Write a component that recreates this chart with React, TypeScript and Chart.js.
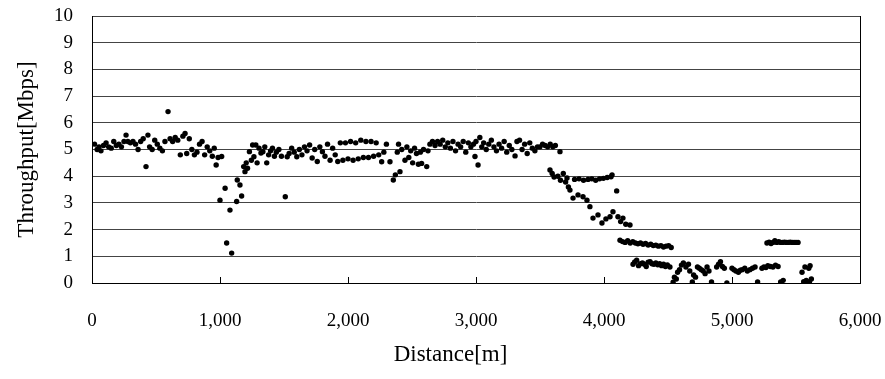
import React, { useEffect, useRef } from "react";
import { Chart, registerables } from "chart.js";

Chart.register(...registerables);

// Distance [m], Throughput [Mbps] pairs, by section of the run
const segStart: [number, number][] = [
  [20, 5.2], [40, 5.0], [55, 5.1], [70, 4.95], [90, 5.15], [110, 5.25], [130, 5.1], [150, 5.05],
  [170, 5.3], [190, 5.15], [210, 5.2], [230, 5.1], [250, 5.3], [266, 5.54], [280, 5.3], [300, 5.25],
  [320, 5.3], [340, 5.2], [360, 5.0], [380, 5.3], [400, 5.4], [422, 4.36], [437, 5.54], [450, 5.1],
  [470, 5.0], [490, 5.35], [510, 5.2], [530, 5.05], [550, 4.95], [570, 5.3], [594, 6.42], [610, 5.4],
  [630, 5.3], [650, 5.45], [670, 5.35], [690, 4.8], [710, 5.5], [727, 5.6], [740, 4.85], [760, 5.4],
  [780, 5.0], [800, 4.8], [820, 4.9], [840, 5.2], [860, 5.3], [880, 4.8], [900, 5.1], [920, 4.95],
  [940, 4.75], [955, 5.05], [970, 4.42], [985, 4.7],
];

const segDip: [number, number][] = [
  [1000, 3.1], [1013, 4.74], [1040, 3.55], [1052, 1.5], [1078, 2.73], [1091, 1.12], [1130, 3.05],
  [1135, 3.86], [1156, 3.67], [1169, 3.26],
];

const segRecover: [number, number][] = [
  [1185, 4.36], [1195, 4.17], [1205, 4.5], [1215, 4.3], [1230, 4.92], [1245, 4.6], [1255, 5.17],
  [1265, 4.73], [1280, 5.17], [1290, 4.5], [1305, 5.05], [1320, 4.87], [1335, 4.92], [1350, 5.1],
  [1365, 4.5], [1380, 4.8], [1395, 4.95], [1410, 5.05], [1425, 4.75], [1440, 4.9], [1460, 5.0],
  [1480, 4.75], [1510, 3.23], [1525, 4.73], [1540, 4.85], [1560, 5.05], [1580, 4.9], [1600, 4.73],
  [1620, 5.0], [1640, 4.8], [1660, 5.1], [1680, 4.95], [1700, 5.17], [1720, 4.68], [1740, 5.0],
  [1760, 4.55], [1780, 5.1], [1800, 4.92], [1820, 4.75], [1840, 5.2], [1860, 4.6], [1880, 5.05],
  [1900, 4.8], [1920, 4.55], [1940, 5.25], [1960, 4.6], [1980, 5.25], [2000, 4.65], [2020, 5.3],
  [2040, 4.6], [2060, 5.25], [2080, 4.65], [2100, 5.35], [2120, 4.7], [2140, 5.3], [2160, 4.7],
  [2180, 5.3], [2200, 4.75], [2220, 5.25], [2240, 4.8], [2263, 4.54], [2280, 4.9], [2300, 5.2],
  [2328, 4.54], [2354, 3.86], [2370, 4.05], [2385, 4.9], [2395, 5.2],
];

const segPlateau: [number, number][] = [
  [2406, 4.17], [2420, 5.0], [2445, 4.6], [2460, 5.1], [2475, 4.7], [2490, 4.95], [2505, 4.5],
  [2520, 5.05], [2535, 4.85], [2550, 4.45], [2565, 4.9], [2575, 4.48], [2590, 5.0], [2615, 4.36],
  [2625, 4.95], [2640, 5.2], [2660, 5.3], [2680, 5.15], [2700, 5.3], [2720, 5.2], [2740, 5.35],
  [2760, 5.1], [2780, 5.25], [2800, 5.05], [2820, 5.3], [2840, 4.95], [2860, 5.2], [2880, 5.1],
  [2900, 5.3], [2920, 4.9], [2940, 5.25], [2960, 5.1], [2980, 5.2], [2992, 4.74], [3000, 5.3],
  [3016, 4.42], [3030, 5.45], [3045, 5.1], [3060, 5.25], [3080, 5.0], [3100, 5.2], [3120, 5.35],
  [3140, 5.1], [3160, 4.95], [3180, 5.2], [3200, 5.05], [3220, 5.3], [3240, 4.9], [3260, 5.15],
  [3280, 5.0], [3305, 4.76], [3320, 5.3], [3340, 5.35], [3360, 5.0], [3380, 5.2], [3400, 4.85],
  [3420, 5.25], [3440, 5.05], [3460, 4.95], [3480, 5.1], [3500, 5.1], [3520, 5.2], [3540, 5.15],
  [3560, 5.1], [3580, 5.2], [3600, 5.1], [3620, 5.15], [3656, 4.92],
];

const segDecline: [number, number][] = [
  [3578, 4.23], [3595, 4.1], [3610, 3.97], [3640, 4.0], [3660, 3.85], [3682, 4.1], [3700, 3.78],
  [3711, 3.93], [3722, 3.6], [3734, 3.48], [3758, 3.18], [3770, 3.88], [3797, 3.3], [3805, 3.9],
  [3836, 3.23], [3840, 3.85], [3867, 3.1], [3875, 3.88], [3890, 2.86], [3905, 3.9], [3914, 2.43],
  [3935, 3.85], [3953, 2.55], [3965, 3.9], [3984, 2.25], [3995, 3.92], [4015, 2.4], [4025, 3.95],
  [4047, 2.48], [4055, 3.98], [4063, 4.05], [4070, 2.67], [4099, 3.45], [4109, 2.48], [4130, 2.3],
  [4148, 2.43], [4170, 2.2], [4203, 2.17],
];

const segStep: [number, number][] = [
  [4125, 1.6], [4145, 1.55], [4165, 1.52], [4185, 1.58], [4205, 1.5], [4225, 1.55], [4245, 1.5],
  [4265, 1.47], [4285, 1.5], [4305, 1.45], [4325, 1.48], [4345, 1.42], [4365, 1.45], [4385, 1.4],
  [4405, 1.42], [4425, 1.38], [4445, 1.4], [4465, 1.35], [4485, 1.38], [4505, 1.4], [4525, 1.33],
  [4227, 0.7], [4240, 0.79], [4255, 0.85], [4270, 0.65], [4285, 0.72], [4300, 0.75], [4315, 0.7],
  [4330, 0.62], [4345, 0.78], [4360, 0.8], [4375, 0.72], [4390, 0.7], [4405, 0.75], [4420, 0.68],
  [4435, 0.72], [4450, 0.65], [4465, 0.7], [4480, 0.62], [4495, 0.68], [4515, 0.6],
];

const segTail: [number, number][] = [
  [4540, 0.03], [4550, 0.22], [4565, 0.15], [4575, 0.4], [4590, 0.5], [4605, 0.67], [4620, 0.75],
  [4640, 0.6], [4660, 0.7], [4670, 0.45], [4690, 0.04], [4700, 0.3], [4715, 0.22], [4730, 0.6],
  [4745, 0.55], [4760, 0.5], [4775, 0.45], [4790, 0.35], [4805, 0.6], [4820, 0.45], [4840, 0.04],
  [4880, 0.6], [4895, 0.7], [4910, 0.8], [4925, 0.62], [4940, 0.55], [4960, 0.0], [5000, 0.55],
  [5015, 0.5], [5030, 0.45], [5050, 0.4], [5065, 0.48], [5080, 0.5], [5100, 0.55], [5120, 0.45],
  [5140, 0.5], [5160, 0.55], [5180, 0.6], [5200, 0.04], [5234, 0.55], [5250, 0.6], [5265, 0.58],
  [5280, 0.65], [5300, 0.62], [5320, 0.6], [5340, 0.67], [5360, 0.62], [5380, 0.04], [5400, 0.1],
  [5273, 1.5], [5290, 1.53], [5305, 1.48], [5320, 1.52], [5335, 1.58], [5350, 1.52], [5365, 1.55],
  [5380, 1.52], [5395, 1.52], [5410, 1.53], [5425, 1.52], [5440, 1.52], [5455, 1.53], [5470, 1.52],
  [5485, 1.52], [5500, 1.52], [5516, 1.52],
  [5547, 0.4], [5560, 0.05], [5570, 0.6], [5580, 0.1], [5590, 0.0], [5600, 0.55], [5610, 0.65],
  [5620, 0.15], [5605, 0.05],
];

const xTickValues = [0, 1000, 2000, 3000, 4000, 5000, 6000];
const yTickValues = [0, 1, 2, 3, 4, 5, 6, 7, 8, 9, 10];
const xTitle = "Distance[m]";
const yTitle = "Throughput[Mbps]";

const FONT = "'Liberation Serif', 'Times New Roman', serif";

const frame = {
  id: "frame",
  afterDraw(chart: any) {
    const { ctx, chartArea } = chart;
    const x = chart.scales.x;
    ctx.save();
    ctx.strokeStyle = "#000";
    ctx.lineWidth = 1;
    ctx.beginPath();
    for (const v of xTickValues) {
      if (v === 0 || v === 6000) continue;
      const px = Math.round(x.getPixelForValue(v)) + 0.5;
      ctx.moveTo(px, chartArea.bottom);
      ctx.lineTo(px, chartArea.bottom - 6);
    }
    const r = Math.round(chartArea.right) + 0.5;
    ctx.moveTo(r, chartArea.top);
    ctx.lineTo(r, chartArea.bottom);
    ctx.stroke();
    // x-axis title, centred on the figure as in the original
    ctx.fillStyle = "#000";
    ctx.font = `23px ${FONT}`;
    ctx.textAlign = "center";
    ctx.textBaseline = "middle";
    ctx.fillText(xTitle, chart.width / 2 + 8, chartArea.bottom + 72);
    ctx.restore();
  },
};

export default function App() {
  const ref = useRef<HTMLCanvasElement>(null);
  useEffect(() => {
    const all = [...segStart, ...segDip, ...segRecover, ...segPlateau, ...segDecline, ...segStep, ...segTail];
    const chart = new Chart(ref.current!, {
      type: "scatter",
      data: {
        datasets: [
          {
            data: all.map(([x, y]) => ({ x, y })),
            backgroundColor: "#000",
            borderWidth: 0,
            pointRadius: 2.7,
            pointStyle: "circle",
          },
        ],
      },
      options: {
        animation: false,
        responsive: false,
        events: [],
        layout: { padding: { top: 0, right: 0, left: 0, bottom: 0 } },
        plugins: { legend: { display: false }, tooltip: { enabled: false } },
        scales: {
          x: {
            type: "linear",
            min: 0,
            max: 6000,
            afterFit: (s: any) => {
              s.height = 96;
              s.paddingLeft = 0;
              s.paddingRight = 25;
            },
            afterBuildTicks: (s: any) => { s.ticks = xTickValues.map((v) => ({ value: v })); },
            grid: { display: false, drawTicks: false },
            border: { display: true, color: "#000", width: 1 },
            ticks: {
              padding: 27,
              color: "#000",
              autoSkip: false,
              font: { family: FONT, size: 19 },
              maxRotation: 0,
              callback: (v: any) => Number(v).toLocaleString("en-US"),
            },
            title: { display: false },
          },
          y: {
            type: "linear",
            min: 0,
            max: 10,
            afterFit: (s: any) => {
              s.width = 92;
              s.paddingTop = 16;
              s.paddingBottom = 0;
            },
            afterBuildTicks: (s: any) => { s.ticks = yTickValues.map((v) => ({ value: v })); },
            grid: { color: "#444", lineWidth: 1, drawTicks: false },
            border: { display: true, color: "#000", width: 1 },
            ticks: {
              padding: 19,
              color: "#000",
              autoSkip: false,
              font: { family: FONT, size: 19 },
            },
            title: {
              display: true,
              text: yTitle,
              color: "#000",
              font: { family: FONT, size: 23 },
              padding: { top: 13, bottom: 0 },
            },
          },
        },
      },
      plugins: [frame],
    });
    return () => chart.destroy();
  }, []);
  return (
    <div style={{ position: "absolute", left: 0, top: 0, width: 885, height: 379, background: "#fff" }}>
      <canvas ref={ref} width={885} height={379} />
    </div>
  );
}
